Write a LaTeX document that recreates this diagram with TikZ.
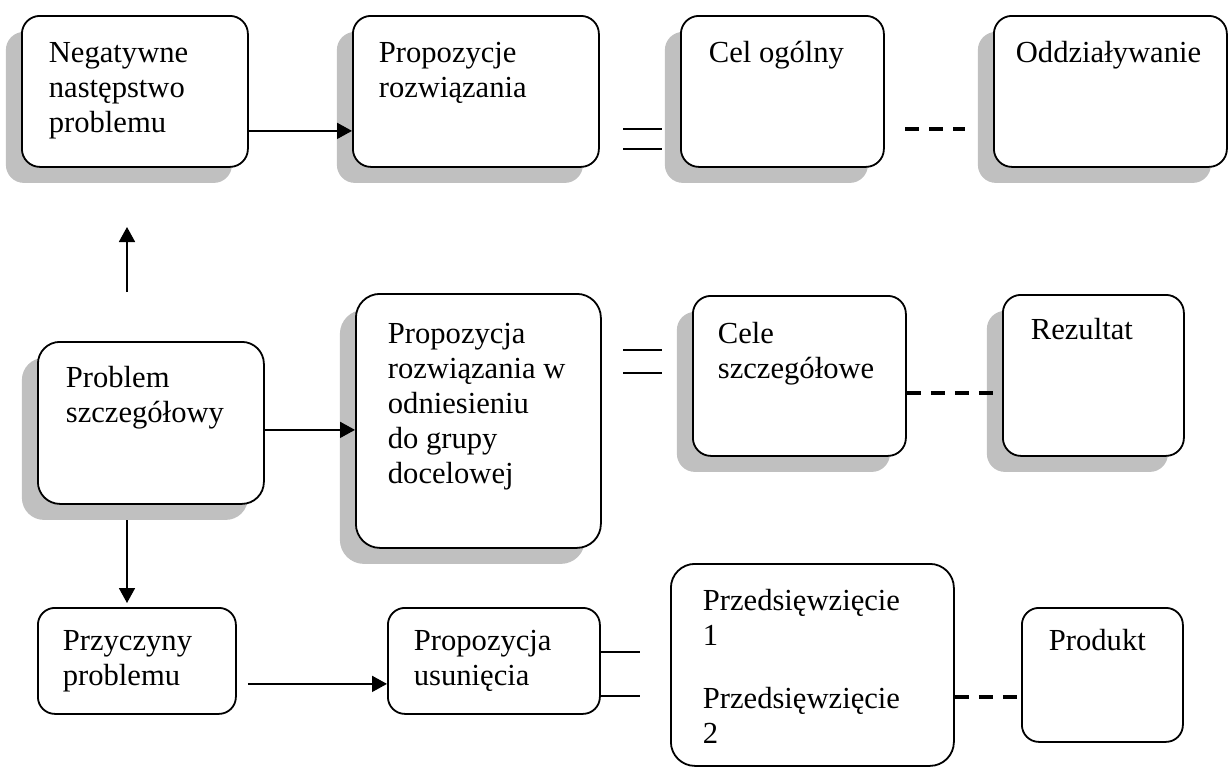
\documentclass[tikz,border=0pt]{standalone}
\usepackage{fontspec}
\setmainfont{Liberation Serif}
\definecolor{pmShadow}{HTML}{C0C0C0}
\usetikzlibrary{arrows.meta,shadows}

% box text: width, height, left pad, top pad, lines
\newcommand{\cardtext}[5]{%
  \begin{minipage}[c][#2][t]{#1}\vspace*{#4}\raggedright\leftskip=#3\relax\strut#5\end{minipage}}

\tikzset{
  card/.style={draw, line width=0.9pt, fill=white, rounded corners=9pt, inner sep=0pt,
    anchor=north west, font=\fontsize{15.3}{17.5}\selectfont},
  cardshadow/.style={drop shadow={shadow xshift=-8pt, shadow yshift=-8pt, opacity=1, fill=pmShadow}},
  arr/.style={-{Triangle[length=7.5pt,width=8pt]}, line width=0.9pt},
  dashlink/.style={line width=1.6pt, dash pattern=on 7pt off 5pt},
  eqlink/.style={line width=0.7pt}
}

\begin{document}
\begin{tikzpicture}[x=0.5pt, y=-0.5pt]
  \useasboundingbox (0,0) rectangle (1228,776);

  % top row
  \node[card, cardshadow] (neg) at (21,15) {\cardtext{113pt}{75.5pt}{13.5pt}{11.25pt}{Negatywne\\następstwo\\problemu}};
  \node[card, cardshadow] (rozw) at (352,15) {\cardtext{123pt}{75.5pt}{13pt}{11.25pt}{Propozycje\\rozwiązania}};
  \node[card, cardshadow] (celo) at (680,15) {\cardtext{101.5pt}{75.5pt}{14pt}{11.25pt}{Cel ogólny}};
  \node[card, cardshadow] (oddz) at (993,15) {\cardtext{116.5pt}{75.5pt}{11pt}{11.25pt}{Oddziaływanie}};

  % middle row
  \node[card, cardshadow, rounded corners=11pt] (probl) at (37,341) {\cardtext{113pt}{81pt}{14pt}{10.75pt}{Problem\\szczegółowy}};
  \node[card, cardshadow, rounded corners=12pt] (rozwgr) at (355,293) {\cardtext{122.5pt}{127pt}{16pt}{12.75pt}{Propozycja\\rozwiązania w\\odniesieniu\\do grupy\\docelowej}};
  \node[card, cardshadow] (celsz) at (692,295) {\cardtext{106.5pt}{80pt}{12.5pt}{11.75pt}{Cele\\szczegółowe}};
  \node[card, cardshadow] (rez) at (1002,294) {\cardtext{90.5pt}{80.5pt}{14pt}{10.25pt}{Rezultat}};

  % bottom row
  \node[card, rounded corners=8.5pt] (przycz) at (37,607) {\cardtext{99pt}{53pt}{12.5pt}{9.25pt}{Przyczyny\\problemu}};
  \node[card, rounded corners=8.5pt] (usun) at (387,607) {\cardtext{106pt}{53pt}{13pt}{9.25pt}{Propozycja\\usunięcia}};
  \node[card, rounded corners=12pt] (przeds) at (670,563) {\cardtext{141.5pt}{101pt}{16pt}{11.25pt}{Przedsięwzięcie\\1\\[14pt]Przedsięwzięcie\\2}};
  \node[card, rounded corners=8.5pt] (prod) at (1021,607) {\cardtext{80.5pt}{67pt}{13.5pt}{9.25pt}{Produkt}};

  % loose ends
  \coordinate (upfrom) at (127,292);
  \coordinate (upto) at (127,227);
  \coordinate (downfrom) at (127,520);
  \coordinate (downto) at (127,603);
  \coordinate (eqa1) at (623,129);  \coordinate (eqa2) at (662,129);
  \coordinate (eqb1) at (623,149);  \coordinate (eqb2) at (662,149);
  \coordinate (eqc1) at (623,350);  \coordinate (eqc2) at (662,350);
  \coordinate (eqd1) at (623,373);  \coordinate (eqd2) at (662,373);
  \coordinate (dsa1) at (905,129);  \coordinate (dsa2) at (965,129);
  \coordinate (usa) at (640,652);
  \coordinate (usb) at (640,696);

  % arrows
  \draw[arr] ([yshift=-19.75pt]neg.east) -- ([yshift=-19.75pt]neg.east -| rozw.west);
  \draw[arr] (upfrom) -- (upto);
  \draw[arr] ([yshift=-3.5pt]probl.east) -- ([yshift=-3.5pt]probl.east -| rozwgr.west);
  \draw[arr] (downfrom) -- (downto);
  \draw[arr] ([xshift=5.5pt,yshift=-11.5pt]przycz.east) -- ([yshift=-11.5pt]przycz.east -| usun.west);

  % equal signs and plain links
  \draw[eqlink] (eqa1) -- (eqa2);
  \draw[eqlink] (eqb1) -- (eqb2);
  \draw[eqlink] (eqc1) -- (eqc2);
  \draw[eqlink] (eqd1) -- (eqd2);
  \draw[eqlink] (usun.east |- usa) -- (usa);
  \draw[eqlink] (usun.east |- usb) -- (usb);

  % dashed links
  \draw[dashlink] (dsa1) -- (dsa2);
  \draw[dashlink] ([yshift=-8.5pt]celsz.east) -- ([yshift=-8.5pt]celsz.east -| rez.west);
  \draw[dashlink] ([yshift=-16pt]przeds.east) -- ([yshift=-16pt]przeds.east -| prod.west);
\end{tikzpicture}
\end{document}
